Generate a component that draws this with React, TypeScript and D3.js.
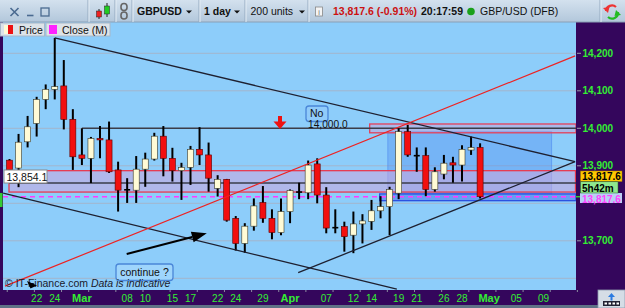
import React from "react";
import * as d3 from "d3";

// ---- data ----
const opens = [13915,13894,13964,14013,14077,14104,14113,14024,13929,13920,13973,13969,13889,13838,13835,13891,13918,13979,13920,13887,13896,13944,13929,13840,13864,13760,13693,13739,13802,13760,13722,13778,13832,13828,13905,13822,13737,13738,13715,13745,13752,13780,13791,13827,13991,13929,13927,13837,13878,13908,13902,13942,13949];
const highs = [13918,13985,14033,14084,14117,14241,14182,14051,14000,13977,14006,14018,13911,13867,13926,13935,13988,14006,13948,13908,13953,14003,13962,13875,13865,13766,13747,13813,13846,13784,13813,13837,13855,13914,13920,13843,13784,13751,13778,13771,13809,13819,13844,14000,14009,13949,13949,13896,13929,13924,13955,13978,13960];
const lows = [13882,13843,13949,13978,14051,14077,13997,13889,13902,13854,13920,13881,13778,13801,13801,13844,13914,13872,13858,13809,13849,13902,13831,13818,13751,13674,13668,13727,13748,13704,13715,13747,13811,13811,13800,13720,13720,13671,13667,13693,13729,13760,13715,13811,13924,13884,13819,13831,13864,13855,13858,13929,13813];
const closes = [13889,13963,14004,14077,14104,14111,14024,13924,13920,13973,13969,13884,13835,13836,13891,13918,13979,13920,13887,13896,13944,13929,13867,13864,13755,13693,13739,13793,13760,13722,13778,13834,13830,13902,13822,13734,13735,13711,13745,13753,13780,13791,13837,13991,13929,13927,13837,13884,13907,13902,13944,13949,13817.6];

const xTickLabels = ["22","24","Mar","08","10","15","17","22","24","29","Apr","07","12","14","19","21","26","28","May","05","09"];
const xTickIndex = [3,5,8,13,15,18,20,23,25,28,31,35,38,40,43,45,48,50,53,56,59];
const monthLabels = ["Mar","Apr","May"];

const yTicks = [14200,14100,14000,13900,13700];
const yGrid = [13600,13700,13800,13900,14000,14100,14200];

const lastPrice = 13817.6;
const zoneLevel = 13854.1;
const zoneTop = 13887;
const zoneBottom = 13830;
const resistance = 14000;

// trend lines [index, price]
const upperChannel = [[5, 14241],[62.5, 13911]];
const lowerChannel = [[-0.7, 13827],[42.8, 13571]];
const risingLine = [[31.9, 13615],[62.5, 13911]];
const redLine = [[-0.5, 13579],[62.5, 14193]];
const arrowLine = [[12.95, 13665],[21.8, 13720]];

const F = "'Liberation Sans', Arial, Helvetica, sans-serif";

export default function App() {
  const x = d3.scaleLinear().domain([0, 52]).range([9.5, 9.5 + 52 * 9.05]);
  const y = d3.scaleLinear().domain([13700, 14200]).range([240.8, 53.3]);
  const left = 3, right = 576, top = 22, bottom = 290;
  const line = d3.line<number[]>().x(d => x(d[0])).y(d => y(d[1]));

  const a0 = [x(arrowLine[0][0]), y(arrowLine[0][1])];
  const a1 = [x(arrowLine[1][0]), y(arrowLine[1][1])];
  const dx = a1[0] - a0[0], dy = a1[1] - a0[1];
  const len = Math.hypot(dx, dy);
  const ux = dx / len, uy = dy / len;
  const hb = [a1[0] - 15 * ux, a1[1] - 15 * uy];
  const head = `${a1[0]},${a1[1]} ${hb[0] + 5.5 * -uy},${hb[1] + 5.5 * ux} ${hb[0] - 5.5 * -uy},${hb[1] - 5.5 * ux}`;

  const bodyW = 6;
  const tickIdx = d3.range(-0.25, 64, 3);

  return (
    <svg width={625} height={308} style={{ position: "fixed", left: 0, top: 0, display: "block" }} fontFamily={F}>
      <defs>
        <linearGradient id="tb" x1="0" y1="0" x2="0" y2="1">
          <stop offset="0" stopColor="#d3e1ee" />
          <stop offset="1" stopColor="#b2c7db" />
        </linearGradient>
        <clipPath id="plot">
          <rect x={left} y={top} width={right - left} height={bottom - top} />
        </clipPath>
      </defs>

      {/* frame */}
      <rect x={0} y={0} width={625} height={308} fill="#5f7286" />
      <rect x={0} y={top} width={625} height={bottom - top + 15} fill="#34065c" />
      <rect x={left} y={top} width={right - left} height={bottom - top} fill="#8dcdfa" />
      <rect x={0} y={193} width={2.5} height={14} fill="#33cc33" />

      <g clipPath="url(#plot)">
        {yGrid.map(v => (
          <line key={v} x1={left} x2={right} y1={y(v)} y2={y(v)} stroke="#a3b6cc" strokeWidth={1} />
        ))}
        {/* translucent box */}
        <rect x={x(41.8)} y={y(13991)} width={x(59.9) - x(41.8)} height={y(13825) - y(13991)} fill="rgba(70,130,240,0.33)" stroke="rgba(70,130,240,0.5)" />
        {/* zone */}
        <rect x={x(0) - 0.5} y={y(zoneTop)} width={right - x(0)} height={y(zoneBottom) - y(zoneTop)} fill="rgba(205,165,220,0.55)" stroke="#e83a50" strokeWidth={1.3} />
        {/* resistance box */}
        <rect x={x(39.8)} y={y(14011.5)} width={right - x(39.8)} height={y(13988) - y(14011.5)} fill="rgba(225,150,200,0.35)" stroke="#e4405a" strokeWidth={1.3} />
        {/* blue band */}
        <rect x={x(40.9)} y={y(13825)} width={right - x(40.9)} height={y(13807) - y(13825)} fill="rgba(60,100,235,0.45)" stroke="#2a4fe0" strokeWidth={1.3} />
        <line x1={x(8)} x2={right} y1={y(resistance)} y2={y(resistance)} stroke="#3a3d4a" strokeWidth={1.4} />
        <line x1={x(0) - 0.5} x2={right} y1={y(zoneLevel)} y2={y(zoneLevel)} stroke="#3a3d4a" strokeWidth={1.3} />
        <line x1={left} x2={right} y1={y(lastPrice)} y2={y(lastPrice)} stroke="#ff3cff" strokeWidth={1.4} strokeDasharray="5,4" />

        {/* candles */}
        {opens.map((o, i) => {
          const c = closes[i];
          const cx = x(i);
          const up = c >= o;
          const doji = Math.abs(c - o) < 3;
          const yt = y(Math.max(o, c)), yb = y(Math.min(o, c));
          return (
            <g key={i}>
              <line x1={cx} x2={cx} y1={y(highs[i])} y2={y(lows[i])} stroke="#000" strokeWidth={2} />
              {doji ? (
                <line x1={cx - bodyW / 2} x2={cx + bodyW / 2} y1={y(c)} y2={y(c)} stroke="#000" strokeWidth={1.6} />
              ) : (
                <rect x={cx - bodyW / 2} y={yt} width={bodyW} height={Math.max(1.5, yb - yt)} fill={up ? "#fffbd6" : "#f20f0f"} stroke={up ? "#3a3a2a" : "#5a0000"} strokeWidth={0.6} />
              )}
            </g>
          );
        })}

        {/* trend lines */}
        <path d={line(upperChannel) || ""} stroke="#1e2030" strokeWidth={1.3} fill="none" />
        <path d={line(lowerChannel) || ""} stroke="#1e2030" strokeWidth={1.3} fill="none" />
        <path d={line(risingLine) || ""} stroke="#1e2030" strokeWidth={1.3} fill="none" />
        <path d={line(redLine) || ""} stroke="#ee2222" strokeWidth={1.2} fill="none" />
        <line x1={a0[0]} y1={a0[1]} x2={hb[0]} y2={hb[1]} stroke="#000" strokeWidth={2} />
        <polygon points={head} fill="#000" />

        {/* annotations */}
        <rect x={306} y={106} width={22} height={15.5} rx={3} fill="rgba(150,200,250,0.4)" stroke="#4a86d8" strokeWidth={1.3} />
        <text x={310} y={116.5} fontSize={10.5} fill="#111">No</text>
        <text x={308} y={128} fontSize={10.2} fill="#111">14,000.0</text>
        <rect x={278} y={116} width={4} height={6} fill="#ee1111" />
        <polygon points="273.5,121.5 286.5,121.5 280,129" fill="#ee1111" />

        <rect x={116} y={264} width={57} height={16.5} rx={3} fill="#9ed5fc" stroke="#4a86d8" strokeWidth={1.3} />
        <text x={144.5} y={276} fontSize={10.5} textAnchor="middle" fill="#111">continue ?</text>

        <text x={5} y={287} fontSize={10.5} fill="#1a1a2a">
          <tspan>© IT-Finance.com  </tspan>
          <tspan fontStyle="italic">Data is indicative</tspan>
        </text>
        <polygon points="27,281 37,285.5 30.5,288.5" fill="#000" />

        <rect x={4} y={170} width={43} height={13} fill="#fff" stroke="#8a8a8a" strokeWidth={1} />
        <text x={6.5} y={180.5} fontSize={10.5} fill="#111">13,854.1</text>
      </g>

      {/* right axis */}
      {yTicks.map(v => (
        <g key={v}>
          <line x1={577} x2={581} y1={y(v)} y2={y(v)} stroke="#9a9aa8" />
          <text x={582.5} y={y(v) + 3.5} fontSize={10} fontWeight="bold" fill="#33ee33">{d3.format(",")(v)}</text>
        </g>
      ))}
      <line x1={576} x2={581} y1={y(lastPrice)} y2={y(lastPrice)} stroke="#33cc33" strokeWidth={1.5} />
      <rect x={580} y={193} width={42} height={10} fill="#b8d0f4" />
      <text x={582} y={202.5} fontSize={10} fontWeight="bold" fill="#ff44ff">13,817.6</text>
      <rect x={580.5} y={171} width={41.5} height={10.5} fill="#ffc800" stroke="#a07800" strokeWidth={0.5} />
      <text x={582} y={180.3} fontSize={10} fontWeight="bold" fill="#000">13,817.6</text>
      <rect x={580.5} y={181.8} width={37.5} height={11.2} fill="#8fe88f" stroke="#2a6a2a" strokeWidth={0.5} />
      <text x={582} y={191.5} fontSize={10} fontWeight="bold" fill="#000">5h42m</text>

      {/* bottom axis */}
      {tickIdx.map(t => (
        <line key={t} x1={x(t)} x2={x(t)} y1={290} y2={292} stroke="#8a8aa0" />
      ))}
      {xTickLabels.map((lab, k) => {
        const isMonth = monthLabels.includes(lab);
        return (
          <text key={k} x={x(xTickIndex[k])} y={302} fontSize={isMonth ? 11 : 10} fontWeight={isMonth ? "bold" : "normal"} textAnchor="middle" fill="#33ee33">{lab}</text>
        );
      })}
      <rect x={598} y={290} width={27} height={18} fill="#d5dde6" stroke="#8a9aac" strokeWidth={0.8} />
      <rect x={603} y={301} width={17} height={5} fill="#223" />
      {[0, 1, 2, 3].map(k => (
        <rect key={k} x={604.5 + k * 4} y={302.5} width={2.5} height={2} fill="#fff" />
      ))}
      <polygon points="611.5,293 608,297 610.5,297 610.5,300.5 612.5,300.5 612.5,297 615,297" fill="#2a7ae0" />

      {/* toolbar */}
      <rect x={0} y={0} width={625} height={22} fill="url(#tb)" />
      <line x1={0} x2={625} y1={22} y2={22} stroke="#8aa0b6" />
      {[88, 115, 132, 199, 245, 308, 600].map(sx => (
        <g key={sx}>
          <line x1={sx} x2={sx} y1={0} y2={22} stroke="#94aac0" />
          <line x1={sx + 1} x2={sx + 1} y1={0} y2={22} stroke="#e4edf5" />
        </g>
      ))}
      <path d="M10.5,8 L18.5,16 M18.5,8 L10.5,16" stroke="#4a6a90" strokeWidth={1.6} />
      <line x1={27} x2={33.5} y1={15.5} y2={15.5} stroke="#4a6a90" strokeWidth={1.6} />
      <rect x={41} y={8} width={8} height={8} fill="none" stroke="#4a6a90" strokeWidth={1.3} />
      <line x1={99} x2={99} y1={9} y2={19} stroke="#222" />
      <rect x={96.5} y={11} width={5} height={6} fill="#ee2222" stroke="#222" strokeWidth={0.5} />
      <line x1={107} x2={107} y1={3} y2={17} stroke="#222" />
      <rect x={104.5} y={6} width={5} height={8} fill="#22cc22" stroke="#222" strokeWidth={0.5} />
      <rect x={121} y={3.5} width={6} height={7} rx={3} fill="none" stroke="#666" strokeWidth={1.6} />
      <rect x={121} y={12} width={6} height={7} rx={3} fill="none" stroke="#666" strokeWidth={1.6} />
      <text x={137} y={15} fontSize={10.5} fontWeight="bold" fill="#111">GBPUSD</text>
      <polygon points="186,10.5 192,10.5 189,13.5" fill="#111" />
      <text x={204} y={15} fontSize={10.5} fontWeight="bold" fill="#111">1 day</text>
      <polygon points="234,10.5 240,10.5 237,13.5" fill="#111" />
      <text x={250.5} y={15} fontSize={10.5} fill="#111">200 units</text>
      <polygon points="299,10.5 305,10.5 302,13.5" fill="#111" />
      <rect x={315.5} y={7} width={7} height={9} fill="#f4f4f4" stroke="#888" strokeWidth={0.8} />
      <text x={319} y={14.5} fontSize={7} textAnchor="middle" fill="#666">i</text>
      <text x={333} y={15} fontSize={10.5} fontWeight="bold" fill="#cc1111">13,817.6 (-0.91%)</text>
      <text x={421} y={15} fontSize={10.5} fontWeight="bold" fill="#111">20:17:59</text>
      <circle cx={471} cy={11.5} r={3.8} fill="#1aa01a" />
      <text x={480} y={15} fontSize={10.5} fill="#111">GBP/USD (DFB)</text>
      <path d="M606,11 A6,6 0 0 1 616,7" stroke="#ee3333" strokeWidth={2.2} fill="none" />
      <polygon points="603,8 608,13 609.5,7" fill="#ee3333" />
      <path d="M618,12 A6,6 0 0 1 608,17" stroke="#22bb22" strokeWidth={2.2} fill="none" />
      <polygon points="621,15 616,10 614.5,16" fill="#22bb22" />

      {/* legend */}
      <rect x={0.5} y={23} width={44} height={13} fill="#dde3e8" stroke="#a8b8c8" />
      <rect x={4} y={25} width={4} height={9} fill="#fffbd6" />
      <rect x={8} y={25} width={5} height={9} fill="#ee1111" />
      <text x={19} y={33.5} fontSize={10.5} fill="#111">Price</text>
      <rect x={46} y={23} width={64} height={13} fill="#dde3e8" stroke="#a8b8c8" />
      <rect x={49} y={25} width={8} height={9} fill="#ff22ff" />
      <text x={62} y={33.5} fontSize={10.5} fill="#111">Close (M)</text>
    </svg>
  );
}
